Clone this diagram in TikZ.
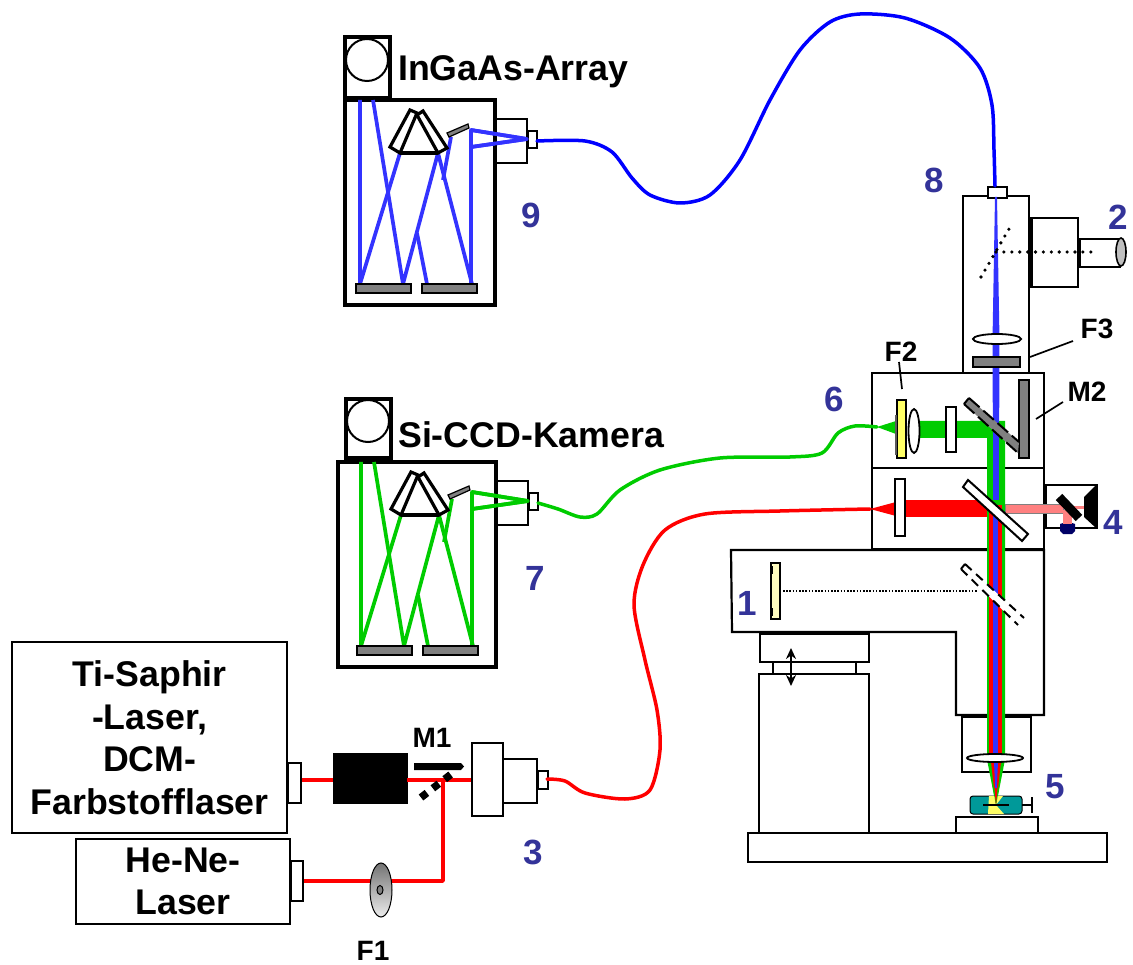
\documentclass[tikz,border=0pt]{standalone}
\usepackage{fontspec}
\usetikzlibrary{arrows.meta}
\setmainfont{Liberation Sans}
\definecolor{lblue}{HTML}{333399}
\definecolor{rayb}{HTML}{3333FF}
\definecolor{fibb}{HTML}{0000FF}
\definecolor{gr}{HTML}{00CC00}
\definecolor{rd}{HTML}{FF0000}
\definecolor{pinkb}{HTML}{FF8080}
\definecolor{teal2}{HTML}{009999}
\definecolor{gry}{HTML}{808080}
\definecolor{yel}{HTML}{FFFF66}
\tikzset{
  part/.style={draw=black,line width=2.2pt,fill=white},
  thinpart/.style={draw=black,line width=1.8pt,fill=white},
  greypart/.style={draw=black,line width=1.8pt,fill=gry},
  ray/.style={line width=3.7pt,line join=round},
  fibre/.style={line width=3.5pt,line cap=round},
  big/.style={font=\fontsize{35.7}{42.5}\selectfont\bfseries,inner sep=0pt,align=center},
  mid/.style={font=\fontsize{28}{32}\selectfont\bfseries,inner sep=0pt},
  num/.style={font=\fontsize{35}{40}\selectfont\bfseries,text=lblue,inner sep=0pt},
  leader/.style={draw=black,line width=1.7pt},
  dots/.style={line width=3.6pt,line cap=round,dash pattern=on 0pt off 7.9pt}
}
\newcommand{\spectro}[1]{%
  % rays
  \begin{scope}[ray,draw=#1]
    \draw (360,100) -- (360,284) -- (400,153);
    \draw (373,100) -- (403,284) -- (438,153) -- (472,284);
    \draw (417,233) -- (427,284);
    \draw (471,284) -- (471,130) -- (527,139) -- (471,147);
    \draw (451,137) -- (443,180);
  \end{scope}
  % mirrors
  \draw[greypart] (356,284) rectangle (411,293);
  \draw[greypart] (422,284) rectangle (477,293);
  \draw[greypart,line width=1.2pt] (447,133) -- (468,124) -- (469,128) -- (449,137) -- cycle;
  % prism
  \draw[line width=3.2pt,line join=miter,fill=white] (410,110) -- (417,113) -- (400,153) -- (390,147) -- cycle;
  \draw[line width=3.2pt,line join=miter,fill=white] (423,111) -- (447,148) -- (438,153) -- (417,115) -- cycle;
  \draw[line width=3.2pt] (400,153) -- (438,153);
  % port
  \draw[draw=black,line width=1.8pt] (496,119) rectangle (527,163);
  \draw[thinpart] (528,131) rectangle (537,148);
  % rays across the port
  \draw[ray,draw=#1] (471,130) -- (527,139) -- (471,147);
}
\begin{document}
\begin{tikzpicture}[x=1pt,y=-1pt]
\useasboundingbox (0,0) rectangle (1133,965);
\fill[white] (0,0) rectangle (1133,965);

% ---------- spectrographs ----------
\draw[part,line width=3.6pt] (345,37) rectangle (390,98);
\draw[line width=2pt,fill=white] (367,60) circle (21);
\draw[draw=black,line width=3.8pt,fill=white] (345,100) rectangle (495,305);
\spectro{rayb}
\draw[part,line width=3.6pt] (346,399) rectangle (391,458);
\draw[line width=2pt,fill=white] (368,421) circle (21);
\draw[draw=black,line width=3.8pt,fill=white] (338,462) rectangle (496,667);
\begin{scope}[shift={(1,362)}]
\spectro{gr}
\end{scope}

% ---------- lasers ----------
\node[big,draw=black,line width=2.2pt,minimum width=275pt,minimum height=191pt,fill=white,anchor=north west] (ti) at (11,641)
  {Ti-Saphir\\-Laser,\\DCM-\\Farbstofflaser};
\node[big,draw=black,line width=2.2pt,minimum width=214pt,minimum height=85pt,fill=white,anchor=north west] (hene) at (75,838)
  {He-Ne-\\Laser};
\node[thinpart,minimum width=13pt,minimum height=40pt,inner sep=0pt,anchor=north west] (port1) at (287,762) {};
\node[thinpart,minimum width=12pt,minimum height=40pt,inner sep=0pt,anchor=north west] (port2) at (290,860) {};
\node[fill=black,draw=black,minimum width=74pt,minimum height=50pt,inner sep=0pt,anchor=north west] (iso) at (333,753) {};
\node[part,minimum width=31pt,minimum height=73pt,inner sep=0pt,anchor=north west] (coup) at (471,742) {};
\node[part,minimum width=34pt,minimum height=44pt,inner sep=0pt,anchor=north west] (coup2) at (502,758) {};
\node[part,minimum width=10pt,minimum height=18pt,inner sep=0pt,anchor=north west] (coup3) at (537,770) {};
\coordinate (bend) at (443,881);
\coordinate (join) at (443,780);
\draw[rd,line width=3.7pt] (port1.east |- join) -- (iso.west |- join);
\draw[rd,line width=3.7pt] (iso.east |- join) -- (coup.west |- join);
\draw[rd,line width=3.7pt,line join=round] (port2.east |- bend) -- (bend) -- (join);
\shade[top color=gry!90!black,bottom color=gry!15,draw=black,line width=1pt] (381,890) ellipse (11 and 27);
\draw[fill=gry,line width=1pt] (380,890) ellipse (3 and 4.5);
\fill (414,763) -- (461,763) -- (464,766.5) -- (461,770) -- (414,770) -- cycle;
\draw[line width=7.5pt,dash pattern=on 7.5pt off 7.5pt] (421,797.5) -- (452,773.5);

% ---------- microscope stand ----------
\node[part,minimum width=359pt,minimum height=29pt,inner sep=0pt,anchor=north west] (base) at (747,832) {};
\node[part,minimum width=110pt,minimum height=159pt,inner sep=0pt,anchor=north west] (col) at (758,673) {};
\node[part,minimum width=83pt,minimum height=12pt,inner sep=0pt,anchor=north west] (neck) at (772,661) {};
\node[part,minimum width=109pt,minimum height=28pt,inner sep=0pt,anchor=north west] (blk) at (759,633) {};
\node[part,minimum width=82pt,minimum height=16pt,inner sep=0pt,anchor=north west] (stage) at (955,816) {};
\draw[part] (731,550) -- (1044,550) -- (1044,715) -- (956,715) -- (956,632) -- (732,632) -- cycle;
\node[part,minimum width=69pt,minimum height=55pt,inner sep=0pt,anchor=north west] (obj) at (961,716) {};
\draw[line width=2.4pt,{Stealth[length=11pt,width=10pt]}-{Stealth[length=11pt,width=10pt]}] (791,648) -- (791,686);

% ---------- head boxes ----------
\draw[part] (963,196) rectangle (1029,373);
\draw[part] (1031,218) rectangle (1078,287);
\draw[line width=3.2pt] (1031,218) -- (1031,287);
\draw[part] (1080,239) rectangle (1120,267);
\draw[draw=black,line width=1.6pt,fill=gry!50] (1121,252) ellipse (5 and 14);
\node[part,minimum width=19pt,minimum height=11pt,inner sep=0pt,anchor=north west] (top) at (987,186) {};
\draw[part] (872,373) rectangle (1044,468);
\draw[part] (872,468) rectangle (1044,549);
\draw[part] (1046,485) rectangle (1097,528);

% ---------- beams ----------
\fill[rayb] (995,197) -- (997,197) -- (999.5,340) -- (999,470) -- (993,470) -- (992.5,340) -- cycle;
% green
\fill[gr] (877,427) -- (896,421) -- (896,434) -- cycle;
\fill[gr] (908,421) -- (1005,421) -- (1005,758) -- (987,758) -- (987,438) -- (908,438) -- cycle;
\fill[rayb] (993,421) rectangle (999,500);
% red
\fill[rd] (870,509) -- (896,502) -- (896,516) -- cycle;
\fill[rd] (905,500) rectangle (987,517);
\fill[rd] (989,505) rectangle (1002,758);
\fill[rayb] (993,505) rectangle (998,758);
% pink
\draw[draw=gry,line width=.8pt,fill=pinkb] (1005,504) rectangle (1063,513);
\fill[pinkb] (1063,506) rectangle (1084,509);
\fill[pinkb] (1063,510) rectangle (1072,527);
% focus cone
\fill[gr] (987.5,762) -- (1004.5,762) -- (996,806) -- cycle;
\fill[rd] (991,762) -- (1001,762) -- (996,806) -- cycle;
\fill[rayb] (994,762) -- (998,762) -- (996,806) -- cycle;

% ---------- optics on the beams ----------
\draw[thinpart] (997,339) ellipse (24 and 5);
\draw[greypart] (973,357) rectangle (1020,367);
\draw[dots] (996,252) -- (1092,252);
\draw[dots] (981,277) -- (1009,229);
\draw[draw=black,line width=1.8pt,fill=gry] (1019,380) rectangle (1029,458);
\fill[gry] (969,398) -- (964,404) -- (1018,453) -- (1019,442) -- cycle;
\draw[line width=2pt,dash pattern=on 14pt off 5pt] (969,398) -- (1019,442);
\draw[line width=2pt,dash pattern=on 14pt off 5pt] (964,404) -- (1018,453);
\draw[line width=2pt] (969,398) -- (964,404);
\draw[draw=black,line width=1.6pt,fill=yel] (897,400) rectangle (906,458);
\fill[gry!70!black] (895,415) rectangle (897,455);
\draw[thinpart] (914,431) ellipse (5.5 and 22);
\draw[thinpart] (946,407) rectangle (956,452);
\draw[thinpart] (895,479) rectangle (905,536);
\draw[draw=black,line width=2pt,fill=white] (968,480) -- (963,487) -- (1022,541) -- (1028,534) -- cycle;
\fill (1096,485) -- (1084,497) -- (1084,517) -- (1096,528) -- cycle;
\fill[blue!40!black] (1060,524) -- (1063,523) -- (1072,523) -- (1075,524) -- (1075,531) -- (1072,534) -- (1063,534) -- (1060,531) -- cycle;
\fill[pinkb] (1063,510) rectangle (1072,524);
\draw[line width=9pt] (1059,497) -- (1079,518);
% filter 1 and dashed splitter
\draw[draw=black,line width=2pt,fill=yellow!25] (771,563) rectangle (780,619);
\draw[line width=2.5pt] (772,566) -- (772,574);
\draw[line width=2.5pt] (772,608) -- (772,616);
\draw[line width=1.2pt,dash pattern=on 1.6pt off 1.6pt] (783,591) -- (977,591);
\fill[white] (965,564) -- (961,569) -- (1018,625) -- (1024,618) -- cycle;
\draw[line width=2pt,dash pattern=on 9pt off 6pt] (965,564) -- (1024,618);
\draw[line width=2pt,dash pattern=on 9pt off 6pt] (961,569) -- (1018,625);
\draw[line width=2pt] (965,564) -- (961,569);
% objective lens and sample
\draw[thinpart] (995,758) ellipse (28 and 4);
\draw[draw=black,line width=1pt,fill=teal2,rounded corners=3pt] (970,796) rectangle (1022,814);
\fill[yel] (989,796) -- (1003,796) -- (996,805) -- (1004,814) -- (988,814) -- cycle;
\fill[gr] (993,788) -- (999,788) -- (996,806) -- cycle;
\fill[rd] (994.5,788) -- (997.5,788) -- (996,806) -- cycle;
\draw[line width=1.7pt] (983,805) -- (1009,805);
\draw[line width=1.7pt] (1022,805) -- (1032,805);
\draw[line width=1.7pt] (1032,797) -- (1032,813);

% ---------- fibres ----------
\coordinate (fb0) at (537,141);
\coordinate (fb1) at (995,186);
\coordinate (fg0) at (538,503);
\coordinate (fg1) at (877,427);
\coordinate (fr0) at (547,779);
\coordinate (fr1) at (870,509);
\draw[fibre,fibb] plot[smooth] coordinates {(fb0) (585,141) (612,152) (632,178) (650,195) (680,203) (710,195) (740,160) (770,100) (800,50) (830,22) (860,14) (905,18) (950,38) (980,68) (992,105) (994,150) (fb1)};
\draw[fibre,gr] plot[smooth] coordinates {(fg0) (558,509) (580,517) (597,514) (620,490) (660,470) (720,458) (790,457) (822,453) (838,433) (855,426) (fg1)};
\draw[fibre,rd] plot[smooth] coordinates {(fr0) (565,781) (585,793) (625,799) (650,790) (660,750) (657,710) (645,660) (634,605) (643,565) (665,530) (705,514) (780,511) (fr1)};

% ---------- labels ----------
\node[big,anchor=west] (ing) at (398,72) {InGaAs-Array};
\node[big,anchor=west] (sic) at (398,435) {Si-CCD-Kamera};
\node[num] (n9) at (531,215) {9};
\node[num] (n8) at (934,180) {8};
\node[num] (n2) at (1118,217) {2};
\node[num] (n6) at (834,399) {6};
\node[num] (n4) at (1113,522) {4};
\node[num] (n1) at (747,603) {1};
\node[num] (n5) at (1055,787) {5};
\node[num] (n3) at (533,852) {3};
\node[num] (n7) at (535,578) {7};
\node[mid] (f3) at (1097,329) {F3};
\node[mid] (f2) at (901,352) {F2};
\node[mid] (m2) at (1087,392) {M2};
\node[mid] (m1) at (432,738) {M1};
\node[mid] (f1) at (373,951) {F1};
\coordinate (f3t) at (1030,357);
\coordinate (f3s) at (1073,341);
\coordinate (f2s) at (899,362);
\coordinate (f2t) at (902,389);
\coordinate (m2s) at (1063,402);
\coordinate (m2t) at (1036,419);
\draw[leader] (f3s) -- (f3t);
\draw[leader] (f2s) -- (f2t);
\draw[leader] (m2s) -- (m2t);
\end{tikzpicture}
\end{document}
